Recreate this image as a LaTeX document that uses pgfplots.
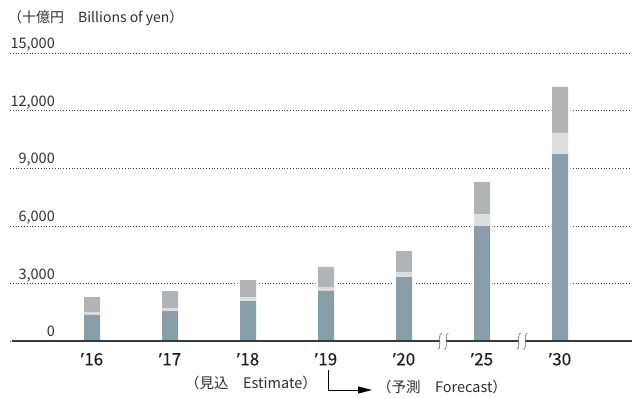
\documentclass[border=0pt]{standalone}
\usepackage{fontspec}
\setmainfont{Noto Sans CJK JP}
\newfontfamily\tickfont{Noto Sans CJK JP}[FakeBold=0.3]
\newfontfamily\latinfont{Noto Sans}[FakeBold=0.3]
\usepackage{pgfplots}
\usepackage{pgfplotstable}
\pgfplotsset{compat=1.18}
\usetikzlibrary{arrows.meta}
\definecolor{cDark}{HTML}{879DA7}
\definecolor{cLight}{HTML}{DCDDDF}
\definecolor{cGray}{HTML}{B2B3B7}
\definecolor{cAxis}{HTML}{3A3A3A}
\definecolor{cGrid}{HTML}{404040}
\definecolor{cText}{HTML}{2E2E2E}

\pgfplotstableread{
i dark light gray total
0 1370 156 781 2307
1 1578 156 885 2619
2 2099 208 885 3192
3 2620 208 1042 3870
4 3349 260 1094 4703
5 6005 625 1667 8297
6 9755 1094 2396 13245
}\data

\pgfplotsset{base/.style={scale only axis, width=622pt, height=288pt,
  xmin=-1.0513, xmax=6.923, ymin=0, ymax=15000,
  at={(10pt,55.7pt)}, anchor=south west,
  axis line style={draw=none}, major tick length=0pt, clip=false,
  tick style={draw=none}}}

\newcommand{\brk}[1]{%
  \fill[white] (#1pt-3.3pt,53pt) rectangle (#1pt+3.3pt,58.5pt);
  \draw[gray!80!black, line width=0.6pt] (#1pt-1.3pt,63.7pt) .. controls (#1pt-5.8pt,63.7pt) and (#1pt-0.8pt,47.7pt) .. (#1pt-5.3pt,47.7pt);
  \draw[gray!80!black, line width=0.6pt] (#1pt+5.3pt,63.7pt) .. controls (#1pt+0.8pt,63.7pt) and (#1pt+5.8pt,47.7pt) .. (#1pt+1.3pt,47.7pt);
}
\newcommand{\yr}[1]{{\latinfont ’}\kern0.5pt#1}

\begin{document}
\begin{tikzpicture}
\begin{axis}[base,
  ytick={0,3000,...,15000}, xtick=\empty,
  ymajorgrids, grid style={cGrid, line width=0.9pt, dash pattern=on 0.9pt off 1.9pt},
  scaled y ticks=false,
  yticklabel style={anchor=base east, inner sep=0pt, xshift=45pt, yshift=4.5pt,
    font=\fontsize{14.5}{16}\selectfont, text=cText,
    /pgf/number format/1000 sep={,}, /pgf/number format/assume math mode=true},
]
\addplot[ybar, bar width=21pt, bar shift=0pt, fill=white, draw=none] table[x=i,y=total]{\data};
\end{axis}
\begin{axis}[base, ybar stacked, bar width=16pt,
  ytick=\empty, xtick={0,...,6},
  xticklabels={\yr{16},\yr{17},\yr{18},\yr{19},\yr{20},\yr{25},\yr{30}},
  xticklabel style={anchor=base, inner sep=0pt, yshift=-24pt,
    font=\tickfont\fontsize{17}{19}\selectfont, text=black!88},
]
\addplot[fill=cDark, draw=none] table[x=i,y=dark]{\data};
\addplot[fill=cLight, draw=none] table[x=i,y=light]{\data};
\addplot[fill=cGray, draw=none] table[x=i,y=gray]{\data};
\end{axis}
\draw[cAxis, line width=1.7pt] (12pt,55.7pt) -- (632pt,55.7pt);
\brk{443}
\brk{522}
\node[anchor=west, inner sep=0pt, font=\fontsize{14}{16}\selectfont, text=cText] at (8pt,379pt) {（十億円　Billions of yen）};
\node[inner sep=0pt, font=\fontsize{14.5}{16}\selectfont, text=cText] at (251pt,14pt) {（見込　Estimate）};
\node[inner sep=0pt, font=\fontsize{14.5}{16}\selectfont, text=cText] at (442pt,10pt) {（予測　Forecast）};
\draw[line width=0.8pt, -{Triangle[length=14pt,width=7pt]}] (328pt,27pt) -- (328pt,7pt) -- (372pt,7pt);
\pgfresetboundingbox
\useasboundingbox (0,0) rectangle (632pt,397pt);
\end{tikzpicture}
\end{document}
